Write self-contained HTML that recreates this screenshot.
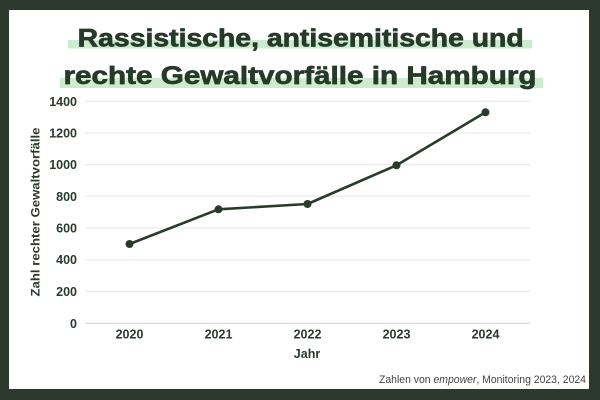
<!DOCTYPE html>
<html>
<head>
<meta charset="utf-8">
<style>
  html, body { margin: 0; padding: 0; background: #2b3a2d; }
  svg { display: block; }
  text { font-family: "Liberation Sans", Arial, sans-serif; }
</style>
</head>
<body>
<svg width="600" height="400" viewBox="0 0 600 400" xmlns="http://www.w3.org/2000/svg">
  <rect x="0" y="0" width="600" height="400" fill="#2b3a2d"/>
  <rect x="9" y="10" width="580" height="379" fill="#ffffff"/>

  <!-- title highlights -->
  <rect x="68" y="40" width="464" height="8.5" fill="#cdeccf"/>
  <rect x="60" y="78" width="483" height="10" fill="#cdeccf"/>

  <!-- title -->
  <text x="77.7" y="46.5" font-size="25" font-weight="bold" fill="#263a29" stroke="#263a29" stroke-width="0.7" textLength="446" lengthAdjust="spacingAndGlyphs">Rassistische, antisemitische und</text>
  <text x="63.5" y="84" font-size="25" font-weight="bold" fill="#263a29" stroke="#263a29" stroke-width="0.7" textLength="473" lengthAdjust="spacingAndGlyphs">rechte Gewaltvorfälle in Hamburg</text>

  <!-- gridlines -->
  <g stroke="#e6e6e6" stroke-width="1">
    <line x1="85" y1="101.3" x2="530" y2="101.3"/>
    <line x1="85" y1="133" x2="530" y2="133"/>
    <line x1="85" y1="164.7" x2="530" y2="164.7"/>
    <line x1="85" y1="196.3" x2="530" y2="196.3"/>
    <line x1="85" y1="228" x2="530" y2="228"/>
    <line x1="85" y1="259.7" x2="530" y2="259.7"/>
    <line x1="85" y1="291.5" x2="530" y2="291.5"/>
  </g>
  <line x1="85" y1="323.3" x2="530" y2="323.3" stroke="#d6d6d6" stroke-width="1.2"/>

  <!-- y tick labels -->
  <g font-size="12.5" font-weight="bold" fill="#2c3a2e" text-anchor="end">
    <text x="77" y="105.8">1400</text>
    <text x="77" y="137.5">1200</text>
    <text x="77" y="169.2">1000</text>
    <text x="77" y="200.8">800</text>
    <text x="77" y="232.5">600</text>
    <text x="77" y="264.2">400</text>
    <text x="77" y="296">200</text>
    <text x="77" y="327.8">0</text>
  </g>

  <!-- x tick labels -->
  <g font-size="12.5" font-weight="bold" fill="#2c3a2e" text-anchor="middle">
    <text x="129.5" y="338.5">2020</text>
    <text x="218.5" y="338.5">2021</text>
    <text x="307.5" y="338.5">2022</text>
    <text x="396.5" y="338.5">2023</text>
    <text x="485.5" y="338.5">2024</text>
  </g>

  <!-- axis titles -->
  <text x="307" y="358" font-size="12.5" font-weight="bold" fill="#2c3a2e" text-anchor="middle">Jahr</text>
  <text transform="translate(39.5,212) rotate(-90)" font-size="12" font-weight="bold" fill="#2c3a2e" text-anchor="middle" textLength="169" lengthAdjust="spacingAndGlyphs">Zahl rechter Gewaltvorfälle</text>

  <!-- series -->
  <polyline points="129.5,244 218.5,209.3 307.5,204 396.5,165.3 485.5,112.3" fill="none" stroke="#2a3b2c" stroke-width="2.6" stroke-linejoin="round" stroke-linecap="round"/>
  <g fill="#2a3b2c">
    <circle cx="129.5" cy="244" r="4"/>
    <circle cx="218.5" cy="209.3" r="4"/>
    <circle cx="307.5" cy="204" r="4"/>
    <circle cx="396.5" cy="165.3" r="4"/>
    <circle cx="485.5" cy="112.3" r="4"/>
  </g>

  <!-- source -->
  <text x="586" y="383" font-size="11" fill="#444444" text-anchor="end" textLength="207" lengthAdjust="spacingAndGlyphs">Zahlen von <tspan font-style="italic">empower</tspan>, Monitoring 2023, 2024</text>
</svg>
</body>
</html>
